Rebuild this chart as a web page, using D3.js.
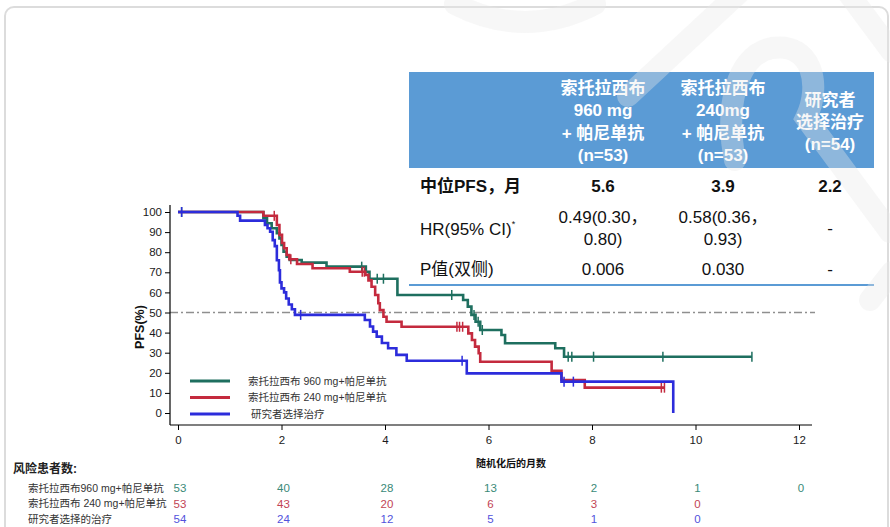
<!DOCTYPE html>
<html>
<head>
<meta charset="utf-8">
<script src="https://cdn.jsdelivr.net/npm/d3@7"></script>
<style>
  html, body { margin: 0; padding: 0; background: #fff; }
  svg { display: block; }
</style>
</head>
<body>
<svg id="chart" width="890" height="527"></svg>
<script>
// ---- data ----
const monthTicks = [0, 2, 4, 6, 8, 10, 12];
const pfsTicks = [0, 10, 20, 30, 40, 50, 60, 70, 80, 90, 100];

const armNames = ["索托拉西布 960 mg+帕尼单抗", "索托拉西布 240 mg+帕尼单抗", "研究者选择治疗"];
const riskLabels = ["索托拉西布960 mg+帕尼单抗", "索托拉西布 240 mg+帕尼单抗", "研究者选择的治疗"];

// Kaplan–Meier steps: [month, PFS %] after each event
const steps960 = [[0, 100], [1.65, 96.9], [1.72, 94.4], [1.81, 91.9], [1.91, 89.4], [1.96, 86.9],
  [2.00, 83.6], [2.04, 80.2], [2.10, 77.8], [2.16, 76.1], [2.39, 74.8], [2.87, 72.8], [3.63, 70.3],
  [3.70, 66.8], [4.24, 58.7], [5.51, 56.2], [5.60, 52.9], [5.67, 48.8], [5.75, 45.4], [5.84, 41.3],
  [6.25, 38.8], [6.32, 34.7], [7.29, 32.2], [7.46, 28.0]];
const censor960 = [0.07, 3.55, 3.85, 3.97, 5.29, 5.72, 5.80, 5.88, 7.54, 7.61, 8.03, 9.37, 11.09];
const last960 = 11.09;

const steps240 = [[0, 100], [1.65, 98.1], [1.91, 93.5], [1.96, 88.6], [2.01, 84.6], [2.05, 82.0],
  [2.10, 78.6], [2.15, 76.5], [2.30, 74.1], [2.60, 72.0], [3.32, 70.3], [3.62, 68.7], [3.68, 66.0],
  [3.74, 62.8], [3.81, 58.7], [3.87, 54.6], [3.90, 51.2], [3.97, 47.9], [4.03, 45.4], [4.32, 42.9],
  [5.61, 39.6], [5.68, 36.3], [5.74, 33.0], [5.81, 29.7], [5.84, 25.5], [7.22, 21.0], [7.41, 16.4],
  [7.86, 12.6]];
const censor240 = [1.86, 2.18, 3.56, 3.60, 5.39, 5.44, 5.50, 9.34, 9.40];
const last240 = 9.41;

const stepsIC = [[0, 100], [1.15, 98.1], [1.20, 95.7], [1.68, 93.5], [1.73, 91.9], [1.78, 90.2],
  [1.83, 86.0], [1.87, 83.0], [1.91, 76.0], [1.95, 71.0], [1.97, 65.0], [2.00, 62.0], [2.05, 60.0],
  [2.09, 57.0], [2.14, 54.0], [2.20, 51.6], [2.26, 48.8], [3.61, 46.3], [3.71, 43.0], [3.77, 40.5],
  [3.84, 38.0], [3.94, 34.8], [4.06, 32.2], [4.22, 28.9], [4.42, 26.0], [5.58, 19.7], [7.41, 15.6],
  [9.57, 0]];
const censorIC = [0.07, 2.37, 5.49, 7.46, 7.64];
const lastIC = 9.57;

// patients at risk at each month tick
const atRisk960 = [53, 40, 28, 13, 2, 1, 0];
const atRisk240 = [53, 43, 20, 6, 3, 0];
const atRiskIC = [54, 24, 12, 5, 1, 0];

// summary table
const tableHeads = [
  ["索托拉西布", "960 mg", "+ 帕尼单抗", "(n=53)"],
  ["索托拉西布", "240mg", "+ 帕尼单抗", "(n=53)"],
  ["研究者", "选择治疗", "(n=54)"]
];
const rowLabels = ["中位PFS，月", "HR(95% CI)", "P值(双侧)"];
const medianPFS = ["5.6", "3.9", "2.2"];
const hrCI = [["0.49(0.30，", "0.80)"], ["0.58(0.36，", "0.93)"], ["-"]];
const pValues = ["0.006", "0.030", "-"];

// ---- styling ----
const FONT = "'Liberation Sans', Arial, 'Noto Sans CJK SC', sans-serif";
const armColors = ["#1e6f5f", "#c42a3e", "#2c2cdb"];
const riskColors = ["#3a8a78", "#c24454", "#5252dc"];

const svg = d3.select("#chart").style("font-family", FONT);

// rounded panel outline
svg.append("rect")
  .attr("x", 5).attr("y", 7).attr("width", 883).attr("height", 600)
  .attr("rx", 9).attr("fill", "none").attr("stroke", "#dcdcdc").attr("stroke-width", 2);

// ---- scales ----
const x = d3.scaleLinear().domain([0, 12]).range([178, 799]);
const y = d3.scaleLinear().domain([0, 100]).range([413, 212]);

const plot = svg.append("g");

// 50% reference line
plot.append("line")
  .attr("x1", 170).attr("x2", 815).attr("y1", y(50)).attr("y2", y(50))
  .attr("stroke", "#8f8f8f").attr("stroke-width", 1.5).attr("stroke-dasharray", "8,3,2,3");

// axes spines
plot.append("line").attr("x1", 170).attr("x2", 170).attr("y1", 205).attr("y2", 425)
  .attr("stroke", "#000").attr("stroke-width", 1.2);
plot.append("line").attr("x1", 170).attr("x2", 812).attr("y1", 425).attr("y2", 425)
  .attr("stroke", "#000").attr("stroke-width", 1.2);

const yAxis = plot.append("g").attr("transform", "translate(170,0)")
  .call(d3.axisLeft(y).tickValues(pfsTicks).tickSize(5).tickPadding(3));
const xAxis = plot.append("g").attr("transform", "translate(0,425)")
  .call(d3.axisBottom(x).tickValues(monthTicks).tickSize(5).tickPadding(6));
[yAxis, xAxis].forEach(a => {
  a.select(".domain").remove();
  a.selectAll("text").attr("font-family", FONT).attr("font-size", 11.5).attr("fill", "#1a1a1a");
  a.selectAll("line").attr("stroke", "#000");
});

// axis titles
plot.append("text")
  .attr("transform", `translate(140,327) rotate(-90)`)
  .attr("text-anchor", "middle").attr("dy", "0.35em")
  .attr("font-size", 12.5).attr("font-weight", "bold").attr("fill", "#111")
  .text("PFS(%)");
plot.append("text")
  .attr("x", 511).attr("y", 463).attr("text-anchor", "middle").attr("dy", "0.35em")
  .attr("font-size", 10).attr("font-weight", "bold").attr("fill", "#111")
  .text("随机化后的月数");

// ---- survival curves ----
const arms = [
  { steps: steps960, censor: censor960, last: last960 },
  { steps: steps240, censor: censor240, last: last240 },
  { steps: stepsIC, censor: censorIC, last: lastIC }
];
const stepLine = d3.line().x(d => x(d[0])).y(d => y(d[1])).curve(d3.curveStepAfter);
const valueAt = (steps, t) => {
  let v = steps[0][1];
  for (const s of steps) { if (s[0] <= t) v = s[1]; }
  return v;
};

arms.forEach((arm, i) => {
  const pts = arm.steps.slice();
  const lastStep = pts[pts.length - 1];
  if (lastStep[0] < arm.last) pts.push([arm.last, lastStep[1]]);
  plot.append("path")
    .attr("d", stepLine(pts))
    .attr("fill", "none").attr("stroke", armColors[i]).attr("stroke-width", 2.6)
    .attr("stroke-linejoin", "miter");
  plot.append("g").selectAll("line").data(arm.censor).join("line")
    .attr("x1", d => x(d)).attr("x2", d => x(d))
    .attr("y1", d => y(valueAt(arm.steps, d)) - 5)
    .attr("y2", d => y(valueAt(arm.steps, d)) + 5)
    .attr("stroke", armColors[i]).attr("stroke-width", 1.5);
});

// ---- legend ----
const legend = plot.append("g");
armNames.forEach((name, i) => {
  const ly = 381 + i * 16.5;
  legend.append("line").attr("x1", 190).attr("x2", 230).attr("y1", ly).attr("y2", ly)
    .attr("stroke", armColors[i]).attr("stroke-width", 3);
  legend.append("text").attr("x", i === 2 ? 251 : 248).attr("y", ly).attr("dy", "0.35em")
    .attr("font-size", 10.5).attr("fill", "#333").text(name);
});

// ---- patients at risk ----
const risk = svg.append("g");
risk.append("text").attr("x", 13).attr("y", 469).attr("dy", "0.35em")
  .attr("font-size", 12).attr("font-weight", "bold").attr("fill", "#222").text("风险患者数:");
[atRisk960, atRisk240, atRiskIC].forEach((counts, i) => {
  const ry = 488 + i * 15.7;
  risk.append("text").attr("x", 28).attr("y", ry).attr("dy", "0.35em")
    .attr("font-size", 10.5).attr("fill", "#333").text(riskLabels[i]);
  risk.append("g").selectAll("text").data(counts).join("text")
    .attr("x", (d, j) => x(monthTicks[j]) + 2).attr("y", ry).attr("dy", "0.35em")
    .attr("text-anchor", "middle").attr("font-size", 11.5).attr("fill", riskColors[i])
    .text(d => d);
});

// ---- summary table ----
const table = svg.append("g");
const colX = [603, 723, 830];
table.append("rect").attr("x", 409).attr("y", 72).attr("width", 465).attr("height", 96)
  .attr("fill", "#5b9bd5");
tableHeads.forEach((lines, c) => {
  const y0 = lines.length === 4 ? 88 : 99.5;
  lines.forEach((ln, k) => {
    table.append("text").attr("x", colX[c]).attr("y", y0 + k * 22.3).attr("dy", "0.36em")
      .attr("text-anchor", "middle").attr("font-size", 17).attr("font-weight", "bold")
      .attr("fill", "#fff").text(ln);
  });
});

// row labels
table.append("text").attr("x", 420).attr("y", 186).attr("dy", "0.36em")
  .attr("font-size", 17).attr("font-weight", "bold").attr("fill", "#111").text(rowLabels[0]);
const hrLabel = table.append("text").attr("x", 420).attr("y", 229).attr("dy", "0.36em")
  .attr("font-size", 17).attr("fill", "#111").text(rowLabels[1]);
hrLabel.append("tspan").attr("font-size", 9).attr("dy", "-0.9em").text("*");
table.append("text").attr("x", 420).attr("y", 269).attr("dy", "0.36em")
  .attr("font-size", 17).attr("fill", "#111").text(rowLabels[2]);

medianPFS.forEach((v, c) => {
  table.append("text").attr("x", colX[c]).attr("y", 186).attr("dy", "0.36em")
    .attr("text-anchor", "middle").attr("font-size", 17).attr("font-weight", "bold")
    .attr("fill", "#111").text(v);
});
hrCI.forEach((lines, c) => {
  const y0 = lines.length === 2 ? 217 : 228;
  lines.forEach((ln, k) => {
    table.append("text").attr("x", colX[c]).attr("y", y0 + k * 22).attr("dy", "0.36em")
      .attr("text-anchor", "middle").attr("font-size", 17).attr("fill", "#111").text(ln);
  });
});
pValues.forEach((v, c) => {
  table.append("text").attr("x", colX[c]).attr("y", 269).attr("dy", "0.36em")
    .attr("text-anchor", "middle").attr("font-size", 17).attr("fill", "#111").text(v);
});
table.append("line").attr("x1", 409).attr("x2", 874).attr("y1", 285).attr("y2", 285)
  .attr("stroke", "#5b9bd5").attr("stroke-width", 2);

// ---- faint background emblem strokes ----
const mark = svg.append("g").attr("fill", "none")
  .attr("stroke", "rgba(232,232,232,0.36)").attr("stroke-width", 22).attr("stroke-linecap", "round");
mark.append("path").attr("d", "M742,-10 L628,96");
mark.append("path").attr("d", "M735,160 C725,110 735,55 772,48 C812,42 822,85 806,118 L890,232");
mark.append("path").attr("d", "M846,-10 L892,52");
mark.append("path").attr("d", "M455,4 Q525,40 595,4");
mark.append("path").attr("d", "M870,300 L892,272");
</script>
</body>
</html>
